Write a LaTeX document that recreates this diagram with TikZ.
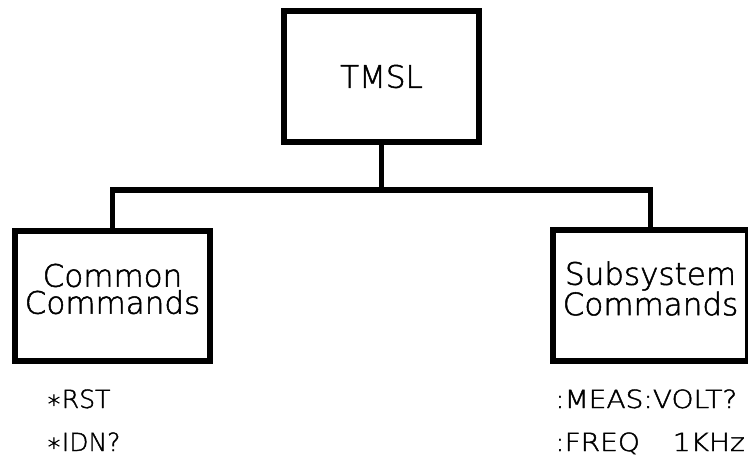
\documentclass[tikz,border=0pt]{standalone}
\usepackage{fontspec}
\setmainfont{DejaVu Sans ExtraLight}[FakeBold=1.6]
\begin{document}
\begin{tikzpicture}[x=1pt,y=1pt,
  box/.style={draw=black,line width=5.8pt,rectangle,inner sep=0pt},
  conn/.style={draw=black,line width=5.6pt},
  boxtext/.style={align=center,inner sep=0pt,font=\fontsize{31}{27}\selectfont},
  cmdtext/.style={anchor=base west,inner sep=0pt,font=\fontsize{25}{30}\selectfont}]
\useasboundingbox (0,0) rectangle (748,456);
% boxes
\node[box,minimum width=195pt,minimum height=131pt] (tmsl) at (381.5,379.5) {};
\node[box,minimum width=195pt,minimum height=130pt] (common) at (112.5,160) {};
\node[box,minimum width=195pt,minimum height=131pt] (subsys) at (650.5,160.5) {};
% box texts
\node[boxtext] (tmslt) at (tmsl.center) {TMSL};
\node[boxtext] (commont) at ([yshift=7pt]common.center) {Common\\Commands};
\node[boxtext] (subsyst) at ([yshift=7pt]subsys.center) {Subsystem\\Commands};
% connectors
\coordinate (bus) at (382,266);
\draw[conn] (tmsl.south) -- (tmsl.south |- bus);
\draw[conn,line cap=rect] (common.north) -- (common.north |- bus) -- (subsys.north |- bus) -- (subsys.north);
% command texts
\node[cmdtext] (rst) at (46,48) {∗RST};
\node[cmdtext] (idn) at (46,5) {∗IDN?};
\node[cmdtext] (meas) at (555,48) {\scalebox{1.12}[1]{:MEAS:VOLT?}};
\node[cmdtext] (freq) at (555,5) {\scalebox{1.12}[1]{\makebox[105pt][l]{:FREQ}1KHz}};
\end{tikzpicture}
\end{document}
